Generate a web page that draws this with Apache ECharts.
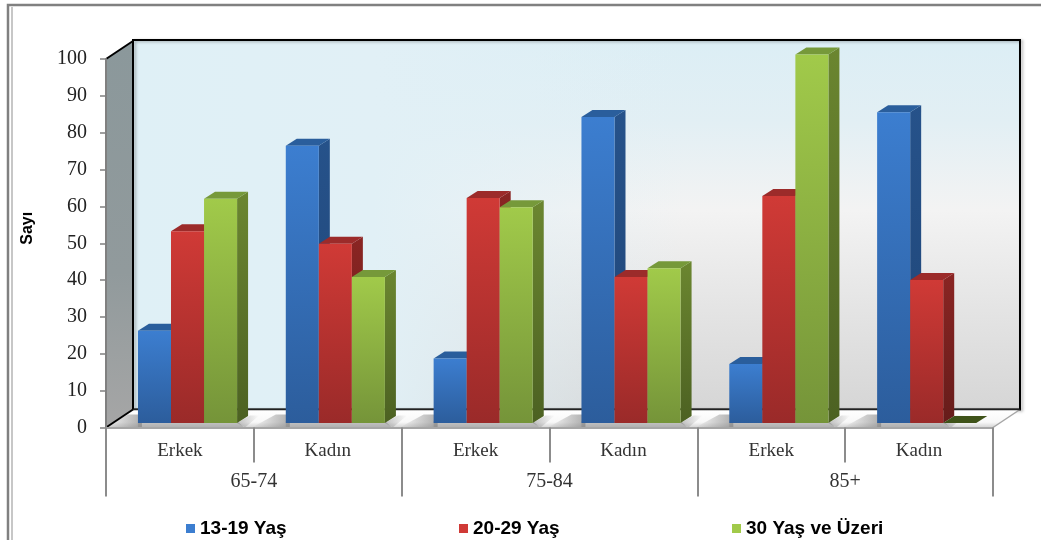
<!DOCTYPE html>
<html><head><meta charset="utf-8">
<style>html,body{margin:0;padding:0;background:#fff}#c{width:1041px;height:540px}</style>
<script src="https://cdn.jsdelivr.net/npm/echarts@6/dist/echarts.min.js"></script>
</head><body><div id="c"></div>
<script>
const categories = ['Erkek','Kadın','Erkek','Kadın','Erkek','Kadın'];
const groups = ['65-74','75-84','85+'];
const valueTicks = [0,10,20,30,40,50,60,70,80,90,100];
const s1319 = [25, 75.2, 17.5, 83, 16, 84.3];
const s2029 = [52, 48.6, 61, 39.6, 61.6, 38.8];
const s30 = [60.8, 39.6, 58.5, 42, 100, 0];
const nameA = '13-19 Yaş', nameB = '20-29 Yaş', nameC = '30 Yaş ve Üzeri';

const G = echarts.graphic;
const lin = (x,y,x2,y2,stops)=> new G.LinearGradient(x,y,x2,y2,stops.map((c,i)=>({offset:Array.isArray(c)?c[0]:i/(stops.length-1),color:Array.isArray(c)?c[1]:c})));
const depth = {dx:27, dy:18};      // wall depth
const bar = {dx:11, dy:7, base:4.6, widthRatio:0.2235, shift:7.6};

function wallItem(params, api){
  const c = params.coordSys;
  const L=c.x, T=c.y, R=c.x+c.width, B=c.y+c.height;
  const dx=depth.dx, dy=depth.dy;
  const poly=(pts,fill,extra)=>({type:'polygon',shape:{points:pts},style:Object.assign({fill:fill},extra||{}),silent:true});
  const line=(a,b,col,w)=>({type:'line',shape:{x1:a[0],y1:a[1],x2:b[0],y2:b[1]},style:{stroke:col,lineWidth:w},silent:true});
  const kids=[];
  const back=[[L+dx,T-dy-1],[R+dx,T-dy-1],[R+dx,B-dy],[L+dx,B-dy]];
  kids.push(poly(back,lin(0,0,0,1,[[0,'#dceef5'],[0.22,'#e2eff4'],[0.46,'#f3f3f3'],[0.75,'#e3e3e3'],[1,'#d6d6d6']])));
  kids.push(poly(back,lin(0,0,1,0,[[0,'#dff0f6'],[0.27,'rgba(225,240,246,1)'],[0.62,'rgba(225,240,246,0)'],[1,'rgba(225,240,246,0)']])));
  kids.push({type:'rect',shape:{x:L+dx,y:T-dy-1,width:c.width,height:c.height+1},style:{fill:'none',stroke:'#000',lineWidth:2,shadowBlur:3,shadowOffsetX:2,shadowOffsetY:1,shadowColor:'rgba(0,0,0,0.3)'},silent:true});
  kids.push(poly([[L,T],[L+dx,T-dy],[L+dx,B-dy],[L,B]],lin(0,0,0,1,[[0,'#8b989b'],[0.6,'#919a9c'],[1,'#a6a6a6']])));
  kids.push(poly([[L,B],[L+dx,B-dy],[R+dx,B-dy],[R,B]],lin(0,0,0,1,[[0,'#ffffff'],[0.7,'#f8f8f8'],[1,'#d4d4d4']])));
  // soft shading of each bar cluster on the floor
  categories.forEach((_,i)=>{
    const p=api.coord([i,0]), w=api.size([1,0])[0];
    const bw=w*bar.widthRatio, x0=p[0]+bar.shift-1.5*bw;
    const right=s30[i]===0?2*bw:3*bw;
    kids.push(poly([[x0-34,B],[x0-10,B-dy+5],[x0+4,B-dy+5],[x0+4,B]],lin(0,0,1,0,[[0,'rgba(120,120,120,0)'],[1,'rgba(120,120,120,0.6)']])));
    kids.push(poly([[x0,B-bar.base-2],[x0+right,B-bar.base-2],[x0+right+7,B],[x0,B]],'rgba(130,130,130,0.45)'));
    kids.push(poly([[x0+right,B-bar.base],[x0+right+13,B-dy+6],[x0+right+22,B-dy+6],[x0+right+8,B]],lin(0,0,1,0,[[0,'rgba(120,120,120,0.45)'],[1,'rgba(120,120,120,0)']])));
  });
  kids.push(line([L,T],[L+dx,T-dy],'#000',2));
  kids.push(line([L,B],[L+dx,B-dy],'#000',2));
  kids.push(line([R,B],[R+dx,B-dy],'#a6a6a6',1.5));
  kids.push(line([L+dx,T-dy-1],[L+dx,B-dy],'#000',2));
  kids.push(line([L+dx,T-dy-1],[R+dx,T-dy-1],'#000',2));
  kids.push(line([R+dx,T-dy-1],[R+dx,B-dy],'#000',2));
  kids.push(line([L+dx,B-dy],[R+dx,B-dy],'#222',1.5));
  return {type:'group',children:kids};
}

function barRender(slot, pal){
  return function(params, api){
    const i=api.value(0), v=api.value(1);
    const p0=api.coord([i,0]), p=api.coord([i,v]), w=api.size([1,0])[0];
    const bw=w*bar.widthRatio;
    const x=p0[0]+bar.shift+(slot-1.5)*bw, xr=x+bw;
    const b=p0[1]-bar.base, t=p[1]-bar.base;
    const dx=bar.dx, dy=bar.dy;
    const kids=[];
    const h=b-t;
    if(h>0.5){
      kids.push({type:'polygon',shape:{points:[[xr,t],[xr+dx,t-dy],[xr+dx,b-dy],[xr,b]]},style:{fill:lin(0,0,0,1,[pal.sideT,pal.sideB])},silent:true});
      kids.push({type:'polygon',shape:{points:[[x,t],[x+dx,t-dy],[xr+dx,t-dy],[xr,t]]},style:{fill:pal.top},silent:true});
      kids.push({type:'rect',shape:{x:x,y:t,width:bw,height:h},style:{fill:lin(0,0,0,1,[pal.frontT,pal.frontB])},silent:true});
    } else {
      kids.push({type:'polygon',shape:{points:[[x,b],[x+dx,b-dy],[xr+dx,b-dy],[xr,b]]},style:{fill:pal.zero},silent:true});
    }
    return {type:'group',children:kids};
  };
}
const palA={frontT:'#3c7ed0',frontB:'#2c5d9c',sideT:'#26528a',sideB:'#1f4577',top:'#2a5e9c',zero:'#1f4577'};
const palB={frontT:'#d03a36',frontB:'#9a2a29',sideT:'#8a2523',sideB:'#661c1a',top:'#9c2b2a',zero:'#661c1a'};
const palC={frontT:'#a1ca4a',frontB:'#759439',sideT:'#6b8630',sideB:'#4c6122',top:'#76993a',zero:'#3e5218'};
const pts=a=>a.map((v,i)=>[i,v]);
const mk=(name,vals,slot,pal)=>({name:name,type:'custom',coordinateSystem:'cartesian2d',renderItem:barRender(slot,pal),data:pts(vals),encode:{x:0,y:1},itemStyle:{color:pal.frontT},z:4,clip:false,silent:true});
const leg=(name,left)=>({show:true,data:[name],left:left,top:519,icon:'rect',itemWidth:9,itemHeight:9,itemGap:0,selectedMode:false,padding:0,textStyle:{fontFamily:'Liberation Sans',fontWeight:'bold',fontSize:19,color:'#000'}});

const chart=echarts.init(document.getElementById('c'),null,{renderer:'canvas'});
chart.setOption({
  animation:false,
  backgroundColor:'#fff',
  grid:{left:106,right:48,top:59,bottom:112.5},
  legend:[leg(nameA,186),leg(nameB,459),leg(nameC,732)],
  graphic:[
    {type:'rect',z:-1,silent:true,shape:{x:8,y:5,width:1100,height:600},style:{fill:'none',stroke:'#808080',lineWidth:2.5}},
    {type:'line',z:-1,silent:true,shape:{x1:12,y1:7,x2:12,y2:540},style:{stroke:'#b5b5b5',lineWidth:1.5}}
  ],
  xAxis:[
    {type:'category',data:categories,position:'bottom',z:5,
      axisLine:{show:true,lineStyle:{color:'#a6a6a6',width:2}},
      axisTick:{show:true,alignWithLabel:false,length:35,lineStyle:{color:'#8c8c8c',width:2}},
      axisLabel:{interval:0,margin:14,fontFamily:'Liberation Serif',fontSize:19,color:'#333'}},
    {type:'category',data:groups,position:'bottom',z:5,
      axisLine:{show:true,lineStyle:{color:'#a6a6a6',width:2}},
      axisTick:{show:true,alignWithLabel:false,length:69,lineStyle:{color:'#8c8c8c',width:2}},
      axisLabel:{interval:0,margin:44,fontFamily:'Liberation Serif',fontSize:20,color:'#333'}}
  ],
  yAxis:{type:'value',min:valueTicks[0],max:valueTicks[valueTicks.length-1],interval:valueTicks[1]-valueTicks[0],z:5,
    name:'Sayı',nameLocation:'middle',nameRotate:90,nameGap:70,
    nameTextStyle:{fontFamily:'Liberation Sans',fontWeight:'bold',fontSize:16,color:'#000',padding:[0,0,0,30]},
    axisLine:{show:true,lineStyle:{color:'#808080',width:2}},
    axisTick:{show:true,length:6,lineStyle:{color:'#808080',width:1.5}},
    axisLabel:{margin:19,fontFamily:'Liberation Serif',fontSize:20,color:'#222'},
    splitLine:{show:false}},
  series:[
    {name:'walls',type:'custom',coordinateSystem:'cartesian2d',renderItem:wallItem,data:[[0,0]],encode:{x:0,y:1},z:1,silent:true,clip:false},
    mk(nameA,s1319,0,palA),mk(nameB,s2029,1,palB),mk(nameC,s30,2,palC)
  ]
});
</script></body></html>
